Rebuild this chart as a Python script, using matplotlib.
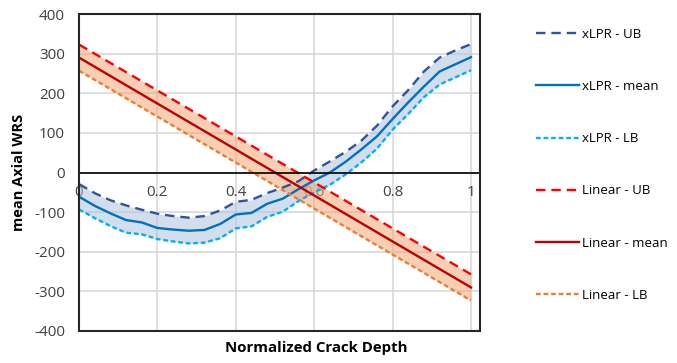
import matplotlib
matplotlib.use("Agg")
import matplotlib.pyplot as plt
from matplotlib.patches import Rectangle

plt.rcParams['font.family'] = ['Open Sans', 'DejaVu Sans']

# ---- data ----
x_xlpr = [0, 0.04, 0.08, 0.12, 0.16, 0.20, 0.24, 0.28, 0.32, 0.36, 0.40, 0.44, 0.48,
          0.52, 0.56, 0.60, 0.64, 0.68, 0.72, 0.76, 0.80, 0.84, 0.88, 0.92, 0.96, 1.00]
xlpr_ub = [-29, -52, -70, -83, -94, -104, -110, -114, -110, -96, -74, -69, -52,
           -38, -22, 5, 28, 52, 80, 118, 167, 208, 255, 290, 308, 324]
xlpr_mean = [-61, -84, -103, -120, -126, -140, -144, -147, -145, -130, -106, -102, -79,
             -66, -42, -20, 0, 27, 58, 91, 135, 177, 217, 255, 273, 291]
xlpr_lb = [-93, -115, -135, -152, -156, -168, -174, -179, -177, -166, -141, -136, -112,
           -99, -72, -50, -31, -5, 25, 60, 108, 148, 190, 222, 240, 258]

x_lin = [0, 0.5, 1.0]
lin_ub = [323, 33, -257]
lin_mean = [290, 0, -290]
lin_lb = [257, -33, -323]

xticks = [0, 0.2, 0.4, 0.6, 0.8, 1.0]
xticklabels = ['0', '0.2', '0.4', '0.6', '0.8', '1']
yticks = [-400, -300, -200, -100, 0, 100, 200, 300, 400]

# ---- figure ----
fig = plt.figure(figsize=(6.77, 3.63), dpi=100)
ax = fig.add_axes([79/677, 32/363, 401/677, 317/363])

ax.fill_between(x_xlpr, xlpr_lb, xlpr_ub, color='#adc4dd', alpha=0.55, lw=0)
ax.fill_between(x_lin, lin_lb, lin_ub, color='#f0a878', alpha=0.55, lw=0)

l1, = ax.plot(x_xlpr, xlpr_ub, color='#2f5597', lw=1.7, dashes=(4, 2.5), label='xLPR - UB')
l2, = ax.plot(x_xlpr, xlpr_mean, color='#0070c0', lw=1.7, label='xLPR - mean')
l3, = ax.plot(x_xlpr, xlpr_lb, color='#00b0f0', lw=1.7, dashes=(2, 1.2), label='xLPR - LB')
l4, = ax.plot(x_lin, lin_ub, color='#ff0000', lw=1.7, dashes=(4, 2.5), label='Linear - UB')
l5, = ax.plot(x_lin, lin_mean, color='#c00000', lw=1.7, label='Linear - mean')
l6, = ax.plot(x_lin, lin_lb, color='#ed7d31', lw=1.7, dashes=(2, 1.2), label='Linear - LB')

ax.set_xlim(0, 1.023)
ax.set_ylim(-400, 400)
ax.set_yticks(yticks)
ax.set_yticklabels([str(v) for v in yticks])
ax.set_xticks(xticks)
ax.set_xticklabels(xticklabels)

ax.grid(True, color='#d9d9d9', lw=1.2)
ax.set_axisbelow(True)

for s in ['top', 'right', 'left']:
    ax.spines[s].set_visible(False)
ax.spines['bottom'].set_position(('data', 0))
ax.spines['bottom'].set_color('black')
ax.spines['bottom'].set_linewidth(1.2)
ax.add_patch(Rectangle((0, 0), 1, 1, transform=ax.transAxes, fill=False,
                       ec='#262626', lw=1.5, clip_on=False, zorder=5))

ax.tick_params(axis='both', length=0, labelsize=11, labelcolor='#404040')
ax.tick_params(axis='y', pad=10)
ax.tick_params(axis='x', pad=9)

ax.set_ylabel('mean Axial WRS', fontsize=10.5, fontweight='bold', color='black', labelpad=6)
fig.text(316/677, 1 - 348/363, 'Normalized Crack Depth', fontsize=10.8, fontweight='bold',
         ha='center', va='center')

fig.legend(handles=[l1, l2, l3, l4, l5, l6], loc='upper left',
           bbox_to_anchor=(524/677, 1 - 16/363), frameon=False, fontsize=9.5,
           labelspacing=2.97, handlelength=3.25, handletextpad=0.25)

fig.savefig('out.png', dpi=100)
